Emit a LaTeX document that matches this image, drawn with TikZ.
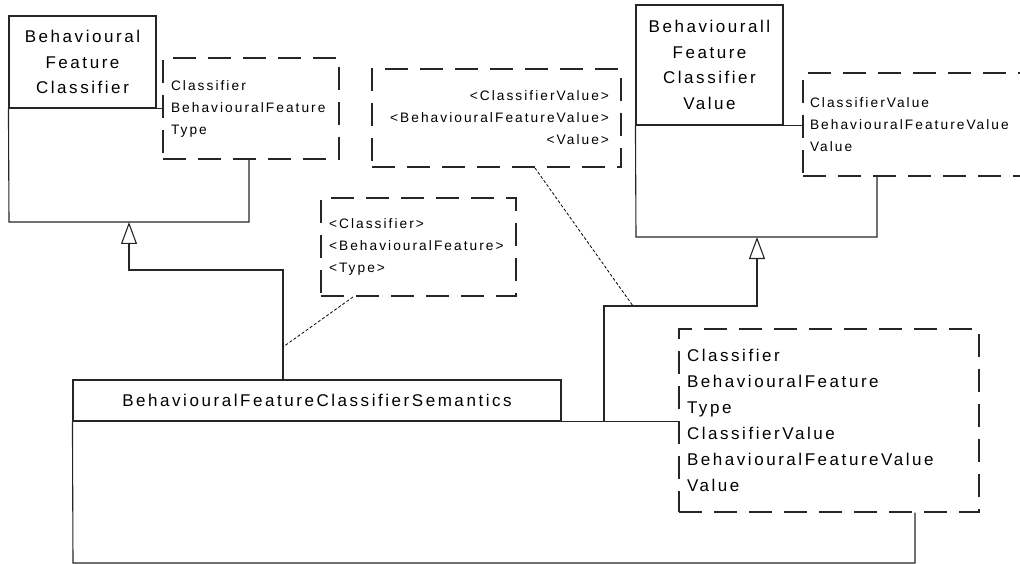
\documentclass[tikz,border=0pt]{standalone}
\usepackage{fontspec}
\setmainfont[LetterSpace=15]{Liberation Sans}
\usetikzlibrary{arrows.meta,calc}
\begin{document}
\begin{tikzpicture}[x=1pt,y=-1pt,
  ln/.style={line width=1.1pt, draw=black!85},
  bigf/.style={font=\fontsize{17}{25.6}\selectfont},
  smallf/.style={font=\fontsize{13.7}{22}\selectfont},
  cls/.style={ln, draw, rectangle, inner sep=0pt, align=center, bigf},
  tpl/.style={ln, draw, rectangle, dash pattern=on 23pt off 12pt, inner ysep=0pt, inner xsep=8pt, align=left, smallf},
  gen/.style={ln, -{Triangle[open, length=22pt, width=16pt]}},
  dep/.style={line width=0.8pt, draw=black, dash pattern=on 3pt off 2pt}
]
\useasboundingbox (0,0) rectangle (1020,564);
\clip (0,0) rectangle (1020,564);

% ---- top-left class ----
\node[cls, minimum width=147pt, minimum height=92pt] (c1) at (82.5,62) {Behavioural\\Feature\\Classifier};
\node[tpl, minimum height=101pt, text width=160pt] (d1) at (251,108.5) {Classifier\\BehaviouralFeature\\Type};
\coordinate (c1br) at (249,222);
\coordinate (c1bl) at (9,222);
\coordinate (c1in) at (129,222);
\draw[ln] (c1.south west) -- (c1.south west -| d1.west);
\draw[ln] (d1.south -| c1br) -- (c1br) -- (c1bl) -- (c1.south west);

% ---- top-right class ----
\node[cls, minimum width=147pt, minimum height=120pt] (c2) at (709.5,65) {Behaviourall\\Feature\\Classifier\\Value};
\node[tpl, minimum height=103pt, text width=246pt, inner xsep=7pt] (d4) at (933,124.5) {ClassifierValue\\BehaviouralFeatureValue\\Value};
\coordinate (c2br) at (877,237);
\coordinate (c2bl) at (636,237);
\coordinate (c2in) at (757,237);
\draw[ln] (c2.south west) -- (c2.south west -| d4.west);
\draw[ln] (d4.south -| c2br) -- (c2br) -- (c2bl) -- (c2.south west);

% ---- middle templates ----
\node[tpl, minimum height=98pt, text width=225pt, inner xsep=12pt, align=right] (d3) at (496.5,118) {<ClassifierValue>\\<BehaviouralFeatureValue>\\<Value>};
\node[tpl, minimum height=98pt, text width=179pt] (d2) at (418.5,247) {<Classifier>\\<BehaviouralFeature>\\<Type>};

% ---- semantics class ----
\node[cls, minimum width=488pt, minimum height=41pt] (s) at (317,400.5) {BehaviouralFeatureClassifierSemantics};
\node[tpl, minimum height=183pt, text width=284pt, font=\fontsize{17}{26}\selectfont] (d5) at (829,420.5) {Classifier\\BehaviouralFeature\\Type\\ClassifierValue\\BehaviouralFeatureValue\\Value};
\coordinate (sbr) at (915,563);
\coordinate (sbl) at (73,563);
\draw[ln] (s.south west) -- (s.south west -| d5.west);
\draw[ln] (d5.south -| sbr) -- (sbr) -- (sbl) -- (s.south west);

% ---- generalizations ----
\coordinate (g1) at (283,380);
\coordinate (g2) at (604,421);
\draw[gen] (g1) |- (129,270) -- (c1in);
\draw[gen] (g2) |- (757,306) -- (c2in);

% ---- dependencies (template bindings) ----
\coordinate (b1) at (283,347);
\coordinate (b2) at (633,306);
\draw[dep] (353,297) -- (b1);
\draw[dep] (535,168) -- (b2);
\end{tikzpicture}
\end{document}
